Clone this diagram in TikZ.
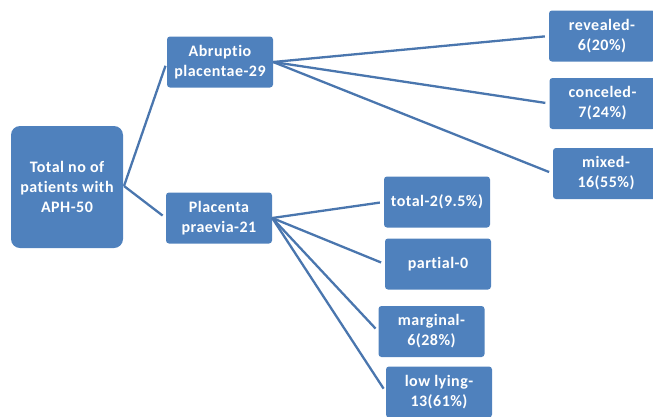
\documentclass[tikz,border=0pt]{standalone}
\usepackage{fontspec}
\setmainfont{Carlito}[Ligatures=NoCommon, LetterSpace=3]
\usetikzlibrary{positioning}
\definecolor{boxblue}{HTML}{4F81BD}
\definecolor{lineblue}{HTML}{4A76AE}

\tikzset{
  box/.style={rectangle, rounded corners=3pt, fill=boxblue, text=white,
    font=\bfseries\fontsize{16}{20}\selectfont, align=center,
    minimum width=106pt, minimum height=51pt, inner sep=2pt},
  link/.style={lineblue, line width=2.3pt, shorten >=4pt}
}

\begin{document}
\begin{tikzpicture}[x=1pt,y=-1pt]
	\useasboundingbox (0,0) rectangle (653,416);
	
	% main groups
	\node[box, minimum width=112pt, minimum height=122pt, rounded corners=9pt] (root) at (67,187) {Total no of\\patients with\\APH-50};
	\node[box] (abruptio) at (220,62) {Abruptio\\placentae-29};
	\node[box] (praevia) at (219,218) {Placenta\\praevia-21};
	
	% abruptio types
	\node[box] (revealed) at (602,36) {revealed-\\6(20\%)};
	\node[box] (conceled) at (602.5,103.5) {conceled-\\7(24\%)};
	\node[box] (mixed) at (606,173.5) {mixed-\\16(55\%)};
	
	% praevia types
	\node[box] (total) at (437,202) {total-2(9.5\%)};
	\node[box] (partial) at (438,264) {partial-0};
	\node[box] (marginal) at (431.5,331.5) {marginal-\\6(28\%)};
	\node[box] (lowlying) at (439,392) {low lying-\\13(61\%)};
	
	% connectors
	\coordinate (fork) at (124,186);
	\foreach \grp in {abruptio,praevia} {
		\draw[link] (fork) -- (\grp.west);
	}
	\foreach \leaf in {revealed,conceled,mixed} {
		\draw[link] (abruptio.east) -- (\leaf.west);
	}
	\foreach \leaf in {total,partial,marginal,lowlying} {
		\draw[link] (praevia.east) -- (\leaf.west);
	}
\end{tikzpicture}
\end{document}
